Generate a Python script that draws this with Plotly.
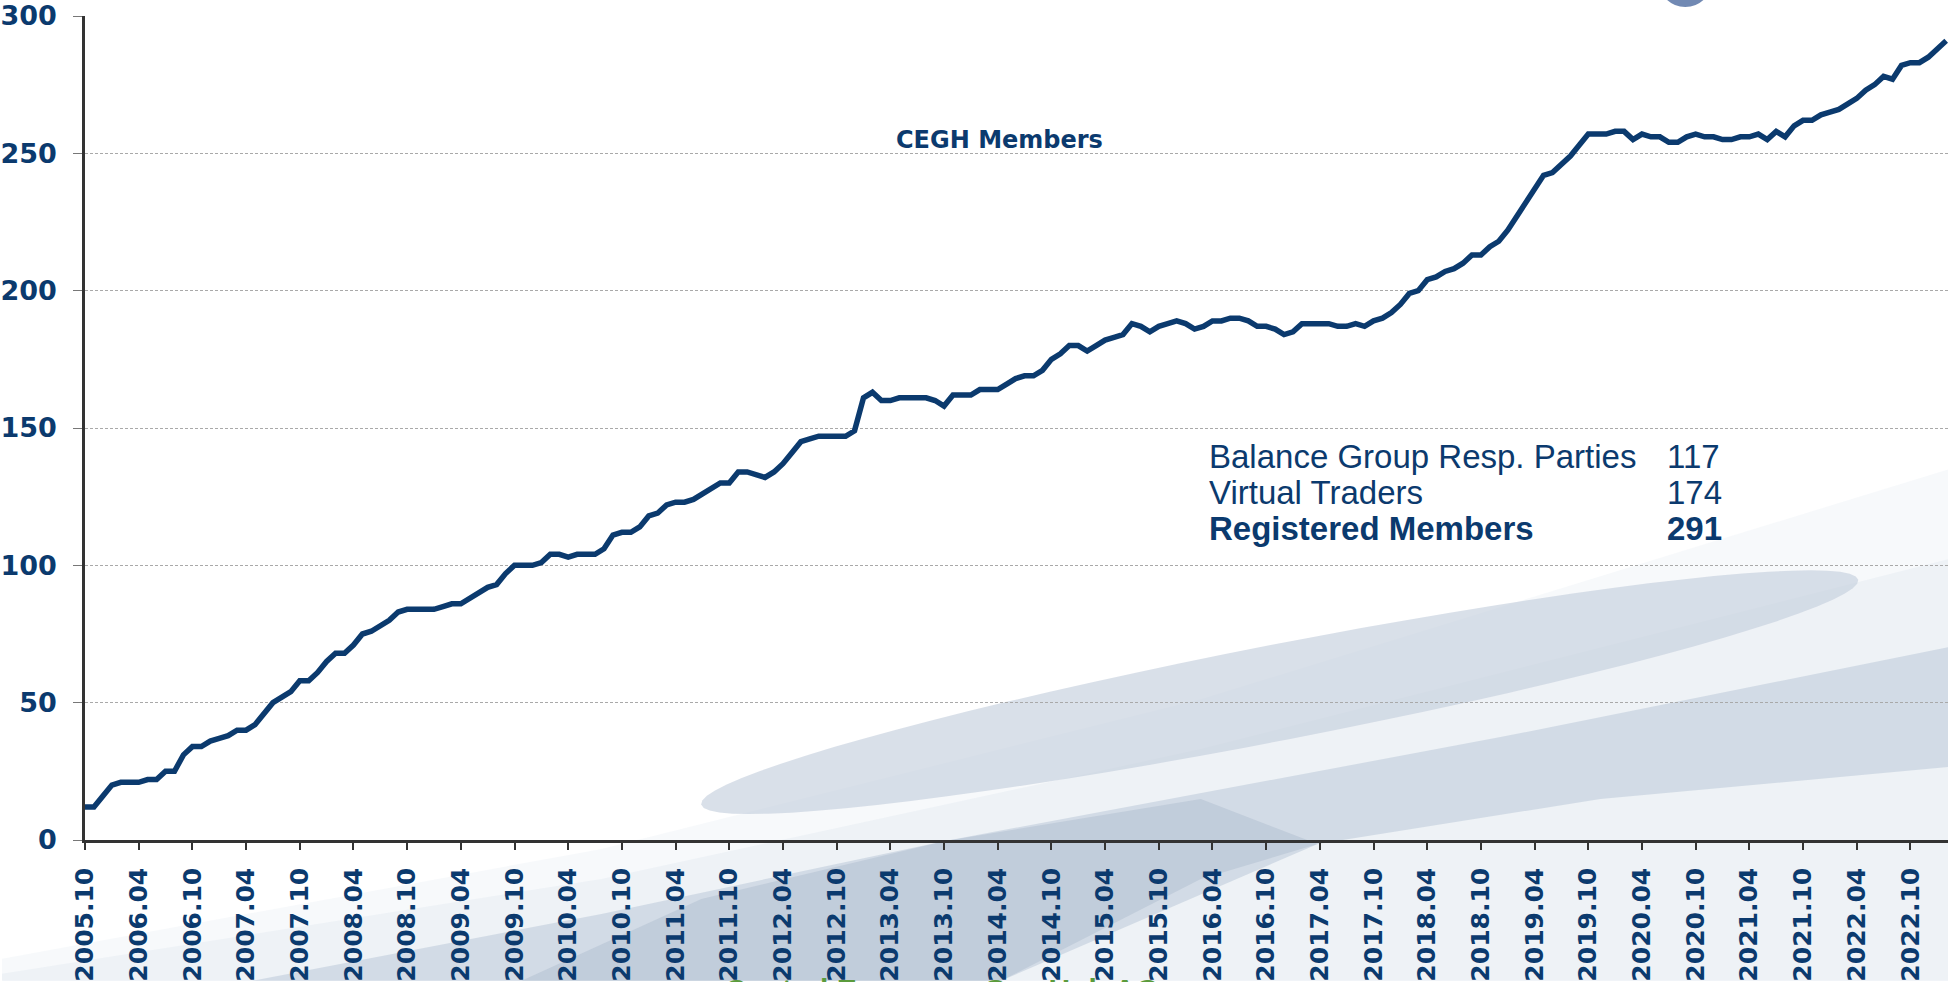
import math
import plotly.graph_objects as go

# ---------------- data ----------------
members = [
    12, 12, 16, 20, 21, 21, 21, 22, 22, 25,
    25, 31, 34, 34, 36, 37, 38, 40, 40, 42,
    46, 50, 52, 54, 58, 58, 61, 65, 68, 68,
    71, 75, 76, 78, 80, 83, 84, 84, 84, 84,
    85, 86, 86, 88, 90, 92, 93, 97, 100, 100,
    100, 101, 104, 104, 103, 104, 104, 104, 106, 111,
    112, 112, 114, 118, 119, 122, 123, 123, 124, 126,
    128, 130, 130, 134, 134, 133, 132, 134, 137, 141,
    145, 146, 147, 147, 147, 147, 149, 161, 163, 160,
    160, 161, 161, 161, 161, 160, 158, 162, 162, 162,
    164, 164, 164, 166, 168, 169, 169, 171, 175, 177,
    180, 180, 178, 180, 182, 183, 184, 188, 187, 185,
    187, 188, 189, 188, 186, 187, 189, 189, 190, 190,
    189, 187, 187, 186, 184, 185, 188, 188, 188, 188,
    187, 187, 188, 187, 189, 190, 192, 195, 199, 200,
    204, 205, 207, 208, 210, 213, 213, 216, 218, 222,
    227, 232, 237, 242, 243, 246, 249, 253, 257, 257,
    257, 258, 258, 255, 257, 256, 256, 254, 254, 256,
    257, 256, 256, 255, 255, 256, 256, 257, 255, 258,
    256, 260, 262, 262, 264, 265, 266, 268, 270, 273,
    275, 278, 277, 282, 283, 283, 285, 288, 291,
]
months = [f"{2005 + (9 + i) // 12}.{(9 + i) % 12 + 1:02d}" for i in range(len(members))]

tick_labels = [
    "2005.10", "2006.04", "2006.10", "2007.04", "2007.10", "2008.04", "2008.10",
    "2009.04", "2009.10", "2010.04", "2010.10", "2011.04", "2011.10", "2012.04",
    "2012.10", "2013.04", "2013.10", "2014.04", "2014.10", "2015.04", "2015.10",
    "2016.04", "2016.10", "2017.04", "2017.10", "2018.04", "2018.10", "2019.04",
    "2019.10", "2020.04", "2020.10", "2021.04", "2021.10", "2022.04", "2022.10",
]
y_ticks = [0, 50, 100, 150, 200, 250, 300]

summary_labels = ["Balance Group Resp. Parties", "Virtual Traders", "Registered Members"]
summary_values = [117, 174, 291]

title_text = "CEGH Members"
footer_text = "Central European Gas Hub AG"

# ---------------- layout constants ----------------
W, H = 1948, 982
ML, MR, MT, MB = 83, 0, 16, 141
PW, PH = W - ML - MR, H - MT - MB
NAVY = "#0b3a6e"


def px(X):
    return (X - ML) / PW


def py(Y):
    return (H - MB - Y) / PH


def poly(points):
    return "M " + " L ".join(f"{px(x):.5f},{py(y):.5f}" for x, y in points) + " Z"


def ellipse(cx, cy, a, b, ang_deg, n=80):
    t = math.radians(ang_deg)
    pts = []
    for k in range(n):
        u = 2 * math.pi * k / n
        ex, ey = a * math.cos(u), b * math.sin(u)
        pts.append((cx + ex * math.cos(t) - ey * math.sin(t),
                    cy + ex * math.sin(t) + ey * math.cos(t)))
    return poly(pts)


def deco(path, color):
    return dict(type="path", path=path, xref="paper", yref="paper",
                fillcolor=color, line=dict(width=0), layer="below")


fig = go.Figure()
fig.add_trace(go.Scatter(
    x=months, y=members, mode="lines",
    line=dict(color=NAVY, width=5.5),
    hoverinfo="skip",
))

shapes = [
    # soft tint behind the swoosh (layered to fake a gradient)
    deco(poly([(0, 982), (0, 960), (600, 850), (1200, 700), (1948, 470), (1948, 982)]),
         "rgba(228,234,241,0.30)"),
    deco(poly([(0, 982), (0, 975), (600, 880), (1200, 750), (1948, 560), (1948, 982)]),
         "rgba(222,229,237,0.35)"),
    # lower band
    deco(poly([(1948, 648), (1500, 738), (944, 842), (600, 915), (250, 982),
               (1000, 982), (1317, 845), (1600, 800), (1948, 768)]),
         "rgba(172,188,207,0.42)"),
    deco(poly([(1200, 800), (944, 842), (700, 900), (520, 982),
               (1000, 982), (1200, 880), (1317, 845)]),
         "rgba(150,168,192,0.28)"),
    # ellipse
    deco(ellipse(1279, 693, 590, 48, -11.0), "rgba(196,207,221,0.65)"),
    # logo sphere cut by the top edge
    dict(type="circle", xref="paper", yref="paper",
         x0=px(1658), x1=px(1712), y0=py(7), y1=py(-47),
         fillcolor="#7189b3", line=dict(width=0)),
]

annotations = [
    dict(text=title_text, x=px(998), y=py(140), xref="paper", yref="paper",
         xanchor="center", yanchor="middle", showarrow=False,
         font=dict(family="DejaVu Sans", size=24, color=NAVY, weight="bold")),
    dict(text=footer_text, x=px(941), y=py(972), xref="paper", yref="paper",
         xanchor="center", yanchor="top", showarrow=False,
         font=dict(family="Liberation Sans", size=30, color="#5b9b3c", weight="bold")),
]
row_y = [457, 493, 529]
for i, (lab, val) in enumerate(zip(summary_labels, summary_values)):
    w = "bold" if i == 2 else "normal"
    annotations.append(dict(text=lab, x=px(1206), y=py(row_y[i]), xref="paper", yref="paper",
                            xanchor="left", yanchor="middle", showarrow=False,
                            font=dict(family="Liberation Sans", size=33, color=NAVY, weight=w)))
    annotations.append(dict(text=str(val), x=px(1665), y=py(row_y[i]), xref="paper", yref="paper",
                            xanchor="left", yanchor="middle", showarrow=False,
                            font=dict(family="Liberation Sans", size=33, color=NAVY, weight=w)))

fig.update_layout(
    width=W, height=H,
    margin=dict(l=ML, r=MR, t=MT, b=MB, pad=0),
    paper_bgcolor="white", plot_bgcolor="rgba(0,0,0,0)",
    showlegend=False,
    shapes=shapes,
    annotations=annotations,
)
fig.update_xaxes(
    type="category", range=[0, 208.2],
    tickmode="array", tickvals=tick_labels, ticktext=tick_labels,
    tickangle=-90,
    tickfont=dict(family="DejaVu Sans", size=25, color=NAVY, weight="bold"),
    ticks="outside", ticklen=7, tickwidth=2, tickcolor="#333333",
    ticklabelstandoff=8,
    showline=True, linecolor="#333333", linewidth=2.5,
    showgrid=False, zeroline=False,
)
fig.update_yaxes(
    range=[0, 300], tickmode="array", tickvals=y_ticks,
    tickfont=dict(family="DejaVu Sans", size=27, color=NAVY, weight="bold"),
    ticks="outside", ticklen=9, tickwidth=1, tickcolor="#777777",
    ticklabelstandoff=11,
    showline=True, linecolor="#333333", linewidth=2.5,
    showgrid=True, gridcolor="#a9a9a9", gridwidth=1, griddash="3px,2px",
    zeroline=False,
)

fig.write_html(
    "out.html",
    config={"displayModeBar": False},
    post_script="document.body.style.margin='0';document.body.style.overflow='hidden';",
)
